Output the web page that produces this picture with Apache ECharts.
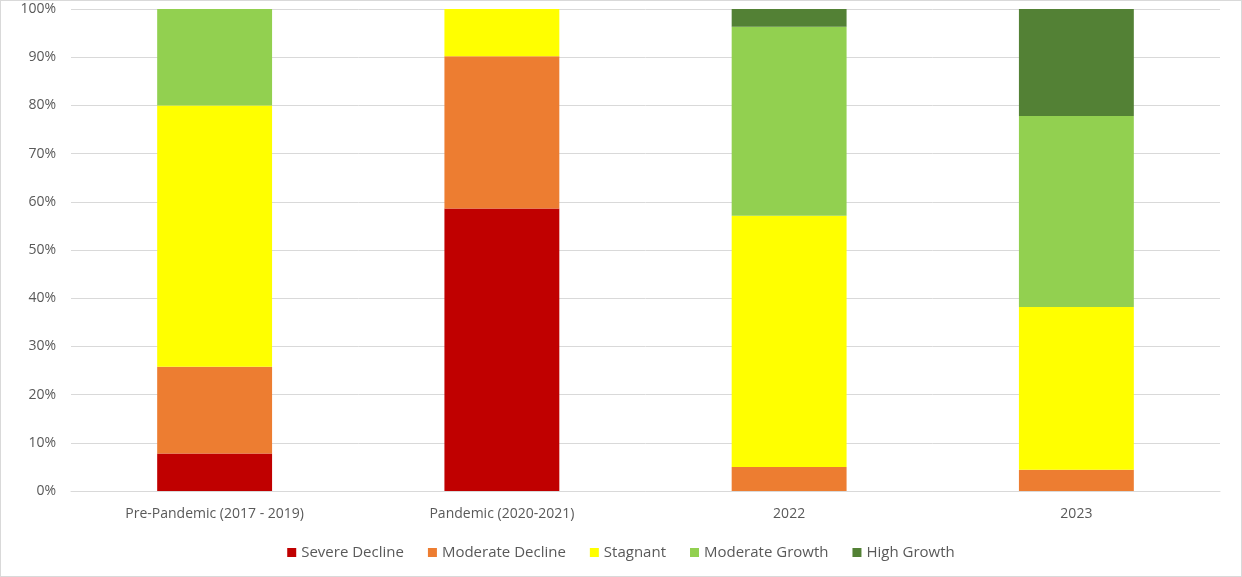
<!DOCTYPE html>
<html>
  <head>
    <meta charset="utf-8" />
    <title>Growth categories</title>
    <script src="https://cdn.jsdelivr.net/npm/echarts@6/dist/echarts.min.js"></script>
    <style>
      * {
        padding: 0;
        margin: 0;
      }
      body {
        background: #fff;
      }
      #chart-panel {
        width: 1242px;
        height: 577px;
        box-sizing: border-box;
        border: 1px solid #d9d9d9;
      }
    </style>
  </head>
  <body>
    <div id="chart-panel"></div>
    <script type="text/javascript">
      var myChart = echarts.init(document.getElementById("chart-panel"));

      // categories + stacked shares (percent)
      const periods = ["Pre-Pandemic (2017 - 2019)", "Pandemic (2020-2021)", "2022", "2023"];
      const severeDecline = [7.8, 58.6, 0, 0];
      const moderateDecline = [18.0, 31.6, 5.0, 4.4];
      const stagnant = [54.2, 9.8, 52.1, 33.8];
      const moderateGrowth = [20.0, 0, 39.2, 39.6];
      const highGrowth = [0, 0, 3.7, 22.2];

      const seriesNames = ["Severe Decline", "Moderate Decline", "Stagnant", "Moderate Growth", "High Growth"];
      const seriesColors = ["#c00000", "#ed7d31", "#ffff00", "#92d050", "#538135"];
      const seriesData = [severeDecline, moderateDecline, stagnant, moderateGrowth, highGrowth];

      var textFont = "'Open Sans', 'Liberation Sans', sans-serif";

      var option = {
        animation: false,
        textStyle: { fontFamily: textFont },
        legend: {
          bottom: 11,
          left: "center",
          itemWidth: 9,
          itemHeight: 9,
          itemGap: 24,
          icon: "rect",
          textStyle: { color: "#595959", fontSize: 15, fontFamily: textFont },
          data: seriesNames,
        },
        grid: {
          left: 70,
          right: 21,
          top: 8,
          bottom: 85,
        },
        xAxis: {
          type: "category",
          data: periods,
          axisTick: { show: false },
          axisLine: { lineStyle: { color: "#d9d9d9", width: 1 } },
          axisLabel: { color: "#595959", fontSize: 14, margin: 16 },
        },
        yAxis: {
          type: "value",
          min: 0,
          max: 100,
          interval: 10,
          axisLine: { show: false },
          axisTick: { show: false },
          splitLine: { lineStyle: { color: "#d9d9d9", width: 1 } },
          axisLabel: {
            color: "#595959",
            fontSize: 14,
            margin: 15,
            formatter: "{value}%",
          },
        },
        series: seriesNames.map(function (name, i) {
          return {
            name: name,
            type: "bar",
            stack: "total",
            barWidth: "40%",
            itemStyle: { color: seriesColors[i] },
            data: seriesData[i],
          };
        }),
      };

      myChart.setOption(option);
    </script>
  </body>
</html>
